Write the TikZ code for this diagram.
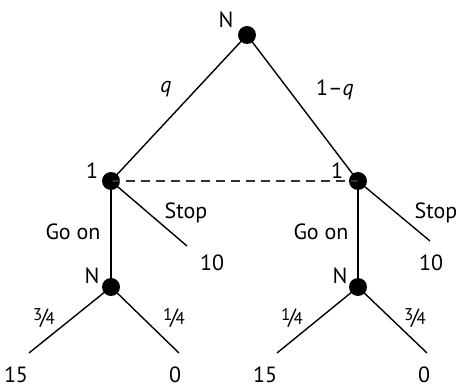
\documentclass[tikz,border=0pt]{standalone}
\usepackage{fontspec}
\setmainfont{PT Sans}
\begin{document}
\begin{tikzpicture}[x=1pt,y=-1pt,
  dot/.style={circle,fill=black,inner sep=0pt,minimum size=18pt},
  br/.style={line width=1.4pt},
  lbl/.style={font=\fontsize{22}{26}\selectfont,inner sep=0pt},
  info/.style={line width=1.4pt,dash pattern=on 9pt off 6pt,black!80}]
\newcommand{\myfrac}[2]{\raisebox{0.35ex}{\fontsize{17}{17}\selectfont #1}\kern-0.1em/\kern-0.1em{\fontsize{17}{17}\selectfont #2}}
\useasboundingbox (0,0) rectangle (456,385);
\node[dot] (n0) at (247,35) {};
\node[dot] (a) at (111,181) {};
\node[dot] (b) at (358,181) {};
\node[dot] (c) at (111,287) {};
\node[dot] (d) at (358,287) {};
\coordinate (as) at (187,246);
\coordinate (bs) at (430,241);
\coordinate (c1) at (29,353);
\coordinate (c2) at (179,353);
\coordinate (d1) at (277,353);
\coordinate (d2) at (427,353);
\draw[br] (n0.center) -- (a.center);
\draw[br] (n0.center) -- (b.center);
\draw[info] (a.center) -- (b.center);
\draw[br] (a.center) -- (c.center);
\draw[br] (a.center) -- (as);
\draw[br] (b.center) -- (d.center);
\draw[br] (b.center) -- (bs);
\draw[br] (c.center) -- (c1);
\draw[br] (c.center) -- (c2);
\draw[br] (d.center) -- (d1);
\draw[br] (d.center) -- (d2);
\node[lbl] (tN) at (226,20) {N};
\node[lbl] (tq) at (166,89) {\itshape q};
\node[lbl] (tq2) at (335,90) {1–\textit{q}};
\node[lbl] (t1a) at (92,171) {1};
\node[lbl] (t1b) at (337,171) {1};
\node[lbl] (ga) at (73,232) {Go on};
\node[lbl] (gb) at (321,232) {Go on};
\node[lbl] (sa) at (186,213) {Stop};
\node[lbl] (sb) at (436,213) {Stop};
\node[lbl] (ta) at (212,263) {10};
\node[lbl] (tb) at (431,263) {10};
\node[lbl] (Na) at (92,276) {N};
\node[lbl] (Nb) at (340,276) {N};
\node[lbl] (f1) at (44,318) {\myfrac{3}{4}};
\node[lbl] (f2) at (174,318) {\myfrac{1}{4}};
\node[lbl] (f3) at (292,318) {\myfrac{1}{4}};
\node[lbl] (f4) at (415,318) {\myfrac{3}{4}};
\node[lbl] (p1) at (16,375) {15};
\node[lbl] (p2) at (175,375) {0};
\node[lbl] (p3) at (265,375) {15};
\node[lbl] (p4) at (424,375) {0};
\end{tikzpicture}
\end{document}
